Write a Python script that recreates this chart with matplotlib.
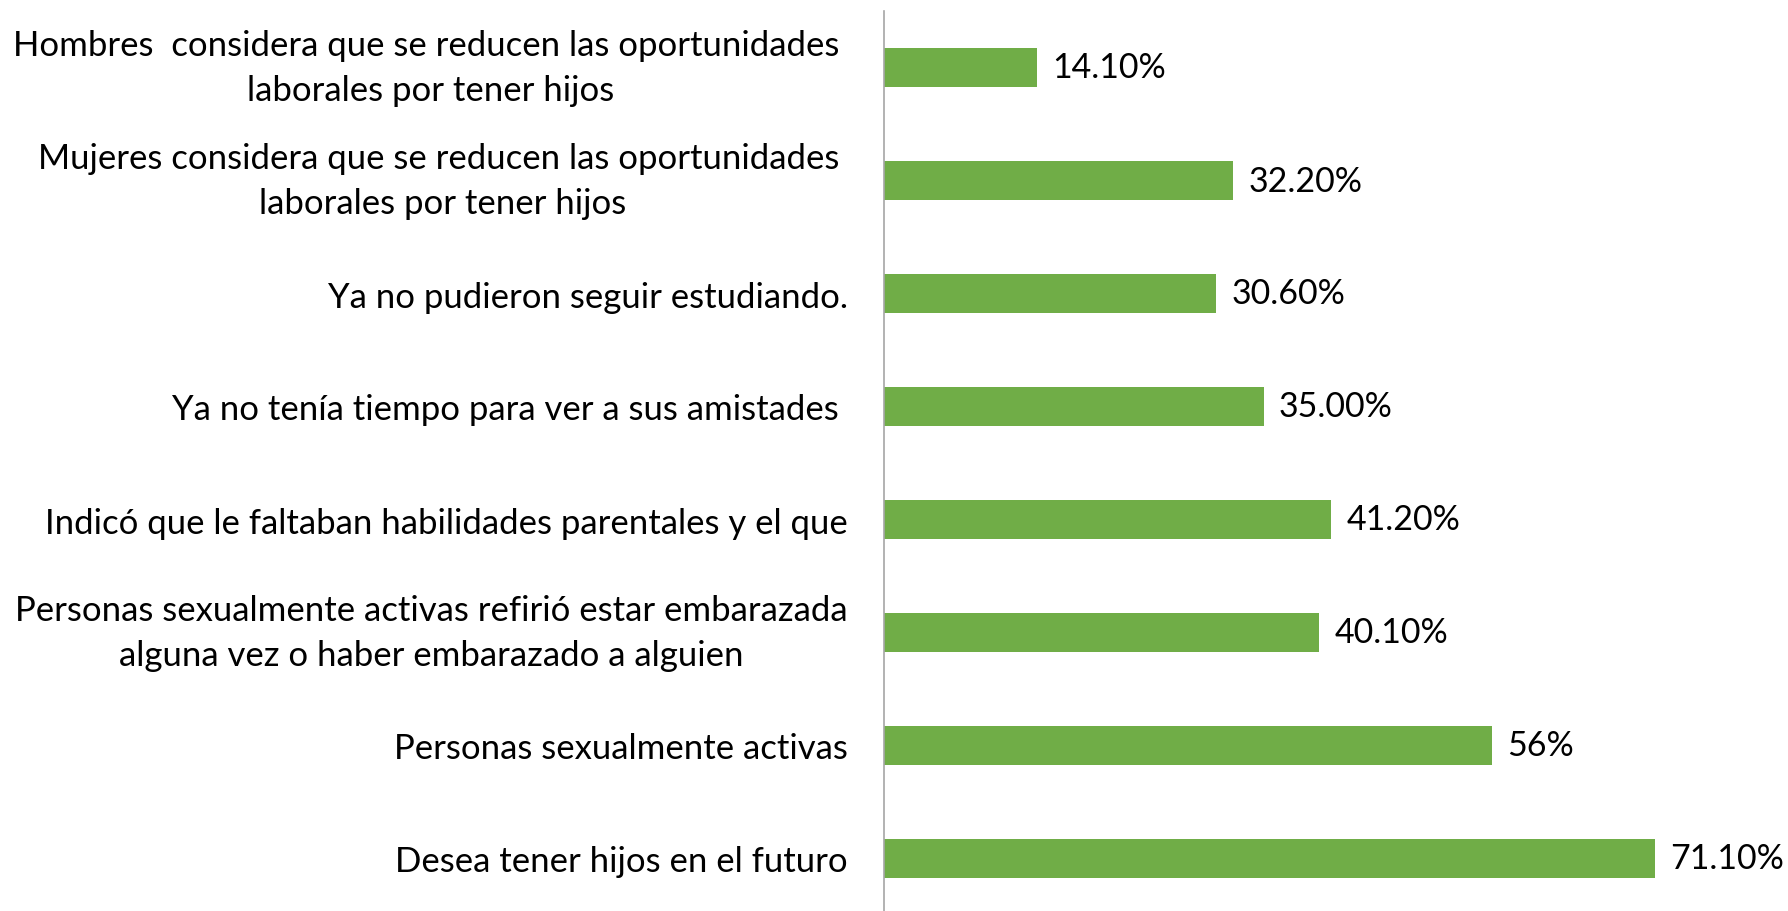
import matplotlib
matplotlib.use("Agg")
import matplotlib.pyplot as plt

categories = [
    "Hombres  considera que se reducen las oportunidades \nlaborales por tener hijos",
    "Mujeres considera que se reducen las oportunidades \nlaborales por tener hijos",
    "Ya no pudieron seguir estudiando.",
    "Ya no tenía tiempo para ver a sus amistades ",
    "Indicó que le faltaban habilidades parentales y el que",
    "Personas sexualmente activas refirió estar embarazada\nalguna vez o haber embarazado a alguien",
    "Personas sexualmente activas",
    "Desea tener hijos en el futuro",
]
values = [14.1, 32.2, 30.6, 35.0, 41.2, 40.1, 56.0, 71.1]
value_labels = ["14.10%", "32.20%", "30.60%", "35.00%", "41.20%", "40.10%", "56%", "71.10%"]

plt.rcParams['font.family'] = ['Lato', 'DejaVu Sans']
FS = 25
VFS = 24.5

fig = plt.figure(figsize=(17.88, 9.12), dpi=100)
ax = fig.add_axes([884/1788, -4/912, 1 - 884/1788 - 0.002, 904/912])

y = list(range(len(categories)))
ax.barh(y, values, height=0.345, color="#70AD47")
ax.set_ylim(len(categories) - 0.5, -0.5)
ax.set_xlim(0, 83)

ax.set_yticks(y)
ax.set_yticklabels(categories, fontsize=FS, multialignment="center", linespacing=1.5)
for t in ax.get_yticklabels():
    if "\n" in t.get_text():
        t.set_va("center")
ax.tick_params(axis='y', length=0, pad=26)
ax.set_xticks([])

for s in ["top", "right", "bottom"]:
    ax.spines[s].set_visible(False)
ax.spines["left"].set_color("#A6A6A6")
ax.spines["left"].set_linewidth(1.2)

for yi, v, lab in zip(y, values, value_labels):
    ax.annotate(lab, xy=(v, yi), xytext=(11, 0), textcoords="offset points",
                va="center", ha="left", fontsize=VFS)

fig.savefig("out.png", dpi=100)
